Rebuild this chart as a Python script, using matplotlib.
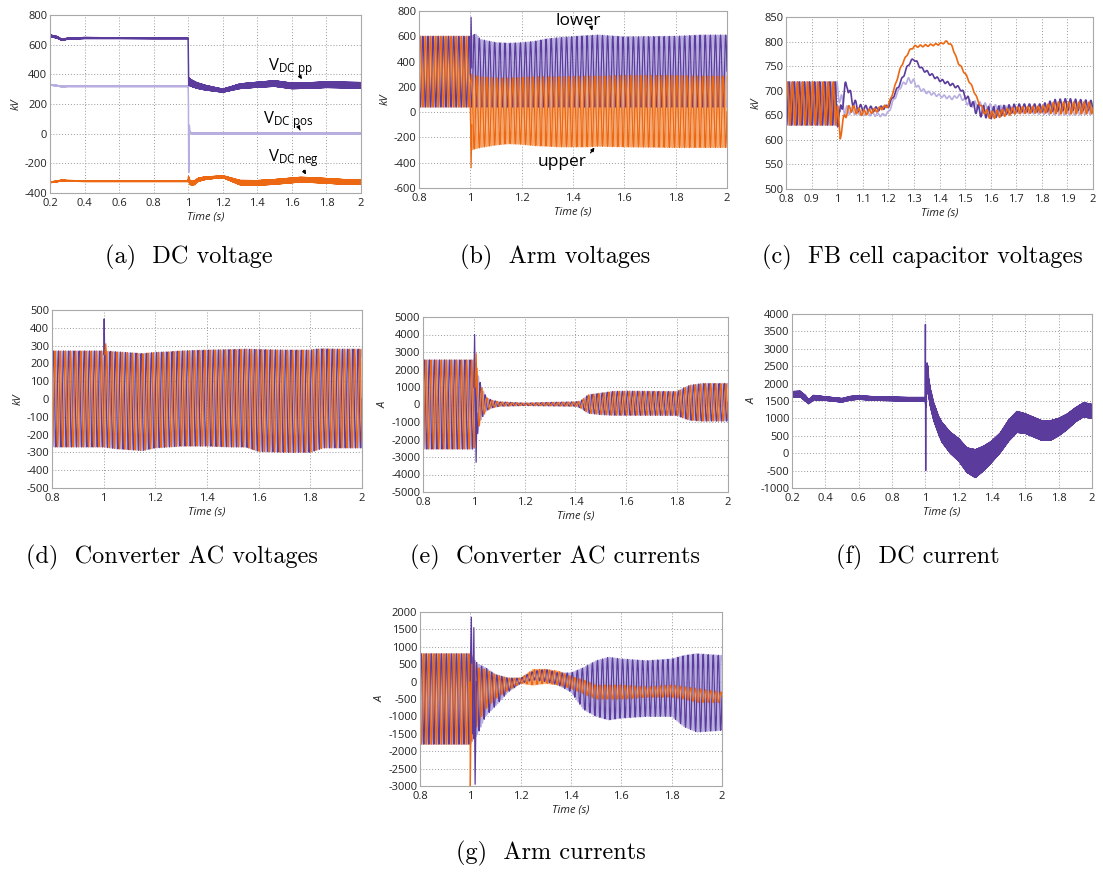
import numpy as np
import matplotlib
matplotlib.use("Agg")
import matplotlib.pyplot as plt

plt.rcParams['font.family'] = ['Open Sans', 'DejaVu Sans']
plt.rcParams['axes.unicode_minus'] = False
plt.rcParams['mathtext.fontset'] = 'custom'
plt.rcParams['mathtext.rm'] = 'Open Sans'
plt.rcParams['mathtext.it'] = 'Open Sans:italic'

DARK = '#5b3b9c'
LAV = '#b8aee0'
ORANGE = '#ec6813'
PEACH = '#f5a66c'
F50 = 50.0
THREE = [0.0, -2 * np.pi / 3, 2 * np.pi / 3]

# ---------------- (a) DC voltage ----------------
a_pp_t = [0.2, 0.24, 0.27, 0.3, 0.4, 0.6, 0.8, 0.9995, 1.002, 1.01, 1.05, 1.1, 1.15, 1.2, 1.25, 1.3, 1.4, 1.5, 1.6, 1.7, 1.8, 1.9, 2.0]
a_pp_v = [660, 650, 632, 640, 645, 644, 643, 643, 355, 345, 325, 310, 300, 290, 305, 320, 330, 338, 322, 325, 330, 328, 326]
a_pp_r = [5, 5, 3, 3, 3, 2, 2, 2, 25, 22, 18, 15, 12, 10, 12, 15, 16, 18, 18, 18, 18, 18, 18]
a_pos_t = [0.2, 0.27, 0.3, 0.9995, 1.001, 1.003, 1.006, 1.01, 1.02, 2.0]
a_pos_v = [330, 318, 320, 320, 250, -260, 60, 10, 2, 0]
a_pos_r = [2, 2, 2, 2, 2, 2, 3, 3, 2, 2]
a_neg_t = [0.2, 0.24, 0.27, 0.3, 0.4, 0.6, 0.8, 0.9995, 1.002, 1.01, 1.03, 1.06, 1.1, 1.15, 1.2, 1.25, 1.3, 1.4, 1.5, 1.6, 1.65, 1.7, 1.8, 1.9, 2.0]
a_neg_v = [-328, -322, -315, -318, -320, -320, -320, -320, -300, -330, -335, -310, -300, -295, -290, -310, -330, -332, -325, -315, -310, -312, -318, -325, -325]
a_neg_r = [2, 2, 2, 2, 2, 2, 2, 2, 12, 12, 12, 10, 8, 6, 6, 10, 14, 15, 15, 15, 15, 15, 15, 15, 15]

# ---------------- (b) Arm voltages ----------------
b_t = [0.8, 0.999, 1.003, 1.02, 1.04, 1.1, 1.15, 1.2, 1.25, 1.3, 1.35, 1.45, 1.5, 1.6, 1.8, 1.9, 2.0]
b_low_up = [600, 600, 600, 620, 575, 550, 545, 550, 560, 580, 590, 605, 610, 595, 600, 610, 610]
b_low_lo = [40, 40, 40, 40, 40, 40, 40, 40, 40, 40, 40, 40, 40, 40, 40, 40, 40]
b_upp_up = [600, 600, 300, 290, 280, 270, 270, 275, 280, 280, 280, 285, 285, 290, 290, 285, 285]
b_upp_lo = [40, 40, -300, -290, -280, -260, -250, -255, -265, -270, -275, -275, -270, -275, -280, -280, -280]
b_low_spike_t = [1.0, 1.003, 1.006]
b_low_spike_v = [300, 750, 350]
b_upp_spike_t = [1.0, 1.003, 1.006]
b_upp_spike_v = [100, -440, -100]

# ---------------- (c) FB cell capacitor voltages ----------------
c_or_t = [0.8, 0.998, 1.005, 1.012, 1.02, 1.03, 1.05, 1.1, 1.15, 1.2, 1.22, 1.25, 1.28, 1.3, 1.35, 1.4, 1.43, 1.45, 1.47, 1.5, 1.53, 1.55, 1.57, 1.6, 1.7, 1.8, 1.85, 1.9, 2.0]
c_or_v = [674, 674, 640, 605, 630, 650, 665, 655, 660, 670, 700, 750, 780, 790, 792, 795, 800, 790, 760, 735, 705, 680, 660, 650, 660, 662, 665, 665, 665]
c_or_r = [44, 44, 10, 5, 8, 8, 8, 6, 4, 3, 2, 2, 2, 2, 2, 2, 2, 2, 2, 2, 2, 2, 5, 8, 7, 7, 12, 12, 12]
c_pu_t = [0.8, 0.998, 1.01, 1.02, 1.03, 1.04, 1.05, 1.06, 1.08, 1.1, 1.15, 1.2, 1.25, 1.28, 1.3, 1.33, 1.36, 1.4, 1.45, 1.48, 1.5, 1.53, 1.55, 1.6, 1.65, 1.7, 1.8, 1.85, 1.9, 2.0]
c_pu_v = [674, 674, 640, 680, 700, 715, 690, 680, 665, 665, 662, 668, 720, 755, 765, 745, 735, 722, 712, 705, 690, 670, 660, 655, 660, 665, 665, 670, 672, 670]
c_pu_r = [44, 44, 20, 20, 15, 12, 12, 10, 8, 6, 5, 3, 3, 3, 3, 3, 3, 3, 3, 3, 5, 8, 12, 12, 10, 8, 8, 12, 12, 10]
c_lv_t = [0.8, 0.998, 1.0, 1.01, 1.03, 1.05, 1.1, 1.15, 1.18, 1.2, 1.22, 1.25, 1.28, 1.3, 1.32, 1.35, 1.4, 1.45, 1.48, 1.5, 1.55, 1.6, 1.7, 1.8, 1.9, 2.0]
c_lv_v = [674, 674, 700, 690, 660, 660, 655, 652, 650, 655, 680, 710, 722, 718, 705, 697, 690, 685, 690, 678, 670, 665, 660, 658, 658, 660]
c_lv_r = [44, 44, 20, 15, 10, 8, 5, 4, 3, 3, 3, 3, 5, 5, 4, 3, 3, 3, 3, 5, 8, 8, 6, 6, 8, 8]

# ---------------- (d) Converter AC voltages ----------------
d_t = [0.8, 0.999, 1.0, 1.05, 1.1, 1.15, 1.2, 1.25, 1.3, 1.4, 1.5, 1.55, 1.6, 1.7, 1.8, 1.82, 1.85, 1.9, 2.0]
d_up = [270, 270, 270, 265, 260, 255, 262, 265, 270, 275, 278, 280, 278, 275, 275, 280, 282, 280, 280]
d_lo = [-270, -270, -270, -280, -285, -290, -275, -270, -265, -265, -270, -270, -295, -300, -300, -290, -275, -275, -275]
d_pu_spike_t = [1.0, 1.002, 1.004]
d_pu_spike_v = [250, 450, 250]
d_or_spike_t = [1.005, 1.008, 1.011]
d_or_spike_v = [250, 310, 250]

# ---------------- (e) Converter AC currents ----------------
e_t = [0.8, 0.999, 1.0, 1.01, 1.02, 1.03, 1.05, 1.07, 1.1, 1.2, 1.3, 1.4, 1.42, 1.45, 1.5, 1.55, 1.6, 1.7, 1.8, 1.82, 1.85, 1.9, 2.0]
e_up = [2550, 2550, 2550, 2200, 1500, 1000, 400, 250, 150, 80, 120, 150, 200, 550, 650, 750, 760, 750, 740, 900, 1100, 1200, 1200]
e_lo = [-2550, -2550, -2550, -2000, -1300, -800, -350, -200, -100, -60, -80, -100, -200, -500, -580, -620, -620, -620, -630, -750, -900, -950, -950]
e_pu_spike_t = [1.0, 1.003, 1.006, 1.009, 1.012]
e_pu_spike_v = [1000, 4000, 500, -3300, -500]
e_or_spike_t = [1.005, 1.009, 1.013]
e_or_spike_v = [1000, 2900, 500]

# ---------------- (f) DC current ----------------
f_t = [0.2, 0.25, 0.28, 0.3, 0.33, 0.4, 0.5, 0.55, 0.6, 0.7, 0.8, 0.9, 0.999, 1.005, 1.01, 1.015, 1.02, 1.03, 1.05, 1.08, 1.1, 1.15, 1.2, 1.25, 1.3, 1.35, 1.4, 1.45, 1.5, 1.55, 1.6, 1.7, 1.75, 1.8, 1.85, 1.9, 1.95, 2.0]
f_v = [1690, 1700, 1580, 1480, 1600, 1570, 1520, 1580, 1600, 1570, 1560, 1550, 1550, 1500, 2300, 2200, 1900, 1600, 1200, 800, 600, 300, 100, -200, -300, -150, 50, 300, 650, 900, 850, 650, 650, 750, 900, 1100, 1250, 1200]
f_r = [80, 80, 80, 60, 60, 50, 50, 50, 50, 50, 50, 50, 50, 200, 300, 300, 250, 250, 250, 250, 280, 300, 320, 350, 400, 350, 300, 280, 300, 300, 280, 280, 280, 250, 220, 200, 200, 200]
f_spike_t = [0.999, 1.0005, 1.002, 1.0035, 1.005]
f_spike_v = [1550, 3700, -500, 2500, 1500]

# ---------------- (g) Arm currents ----------------
g_t = [0.8, 0.999, 1.0, 1.03, 1.06, 1.1, 1.15, 1.2, 1.25, 1.3, 1.35, 1.4, 1.45, 1.5, 1.55, 1.6, 1.7, 1.8, 1.85, 1.9, 2.0]
g_pu_up = [800, 800, 800, 500, 400, 200, 100, 100, 300, 350, 250, 250, 400, 600, 700, 650, 600, 650, 750, 800, 750]
g_pu_lo = [-1800, -1800, -1800, -1500, -1000, -700, -300, -50, 50, 0, -100, -300, -800, -1000, -1100, -1050, -1000, -1000, -1300, -1450, -1400]
g_or_up = [800, 800, 800, 400, 350, 200, 100, 100, 350, 350, 300, 150, 50, -100, -100, -100, -150, -100, -150, -200, -300]
g_or_lo = [-1800, -1800, -1800, -1200, -800, -500, -250, -50, -100, -50, -100, -200, -350, -500, -500, -500, -450, -450, -500, -600, -600]
g_pu_spike_t = [0.999, 1.004, 1.009, 1.014, 1.019, 1.024]
g_pu_spike_v = [0, 1850, -1500, 1550, -2950, 0]
g_or_spike_t = [0.998, 1.0, 1.003, 1.006]
g_or_spike_v = [0, -3000, -1000, 500]


def swing(t, kt, up, lo, phase, freq=F50):
    """Oscillation that fills the band between two envelopes."""
    u = np.interp(t, kt, up)
    l = np.interp(t, kt, lo)
    return (u + l) / 2 + (u - l) / 2 * np.sin(2 * np.pi * freq * t + phase)


def ripple(t, kt, centre, half, freq, phase=0.0):
    c = np.interp(t, kt, centre)
    h = np.interp(t, kt, half)
    return c + h * np.sin(2 * np.pi * freq * t + phase)


W, H = 1103, 873
fig = plt.figure(figsize=(W / 100, H / 100), dpi=100)


def add_ax(l, t, r, b):
    return fig.add_axes([l / W, 1 - b / H, (r - l) / W, (b - t) / H])


def style(ax, xlim, xticks, ylim, yticks, ylabel):
    ax.set_xlim(*xlim)
    ax.set_ylim(*ylim)
    ax.set_xticks(xticks)
    ax.set_xticklabels([f'{v:g}' for v in xticks])
    ax.set_yticks(yticks)
    ax.set_yticklabels([f'{int(v)}' for v in yticks])
    ax.tick_params(length=0, labelsize=8, colors='#222222')
    ax.tick_params(axis='x', pad=3.5)
    ax.tick_params(axis='y', pad=2)
    ax.grid(True, color='#9a9a9a', linestyle=(0, (1, 2)), linewidth=0.7)
    ax.set_axisbelow(True)
    for s in ax.spines.values():
        s.set_color('#a8a8a8')
        s.set_linewidth(0.8)
    ax.set_ylabel(ylabel, fontsize=8, style='italic', labelpad=2, color='#222222')
    ax.set_xlabel('Time (s)', fontsize=8, style='italic', labelpad=2, color='#222222')


LW = 0.9

# (a)
ax = add_ax(50, 15, 361, 193)
ta = np.linspace(0.2, 2.0, 90001)
ax.plot(ta, ripple(ta, a_pos_t, a_pos_v, a_pos_r, 610), color=LAV, lw=1.1)
ax.plot(ta, ripple(ta, a_pp_t, a_pp_v, a_pp_r, 610), color=DARK, lw=1.1)
ax.plot(ta, ripple(ta, a_neg_t, a_neg_v, a_neg_r, 610, 1.0), color=ORANGE, lw=1.1)
style(ax, (0.2, 2.0), np.arange(0.2, 2.01, 0.2).round(1), (-400, 800), range(-400, 801, 200), 'kV')
lab = dict(fontsize=12, color='black', va='center', ha='left')
ax.text(1.46, 452, r'$\mathrm{V}_{\mathrm{DC\ pp}}$', **lab)
ax.text(1.435, 94, r'$\mathrm{V}_{\mathrm{DC\ pos}}$', **lab)
ax.text(1.46, -162, r'$\mathrm{V}_{\mathrm{DC\ neg}}$', **lab)
arr = dict(arrowstyle='-|>', color='black', lw=0.9, mutation_scale=5)
ax.annotate('', xy=(1.668, 352), xytext=(1.64, 398), arrowprops=arr)
ax.annotate('', xy=(1.655, 8), xytext=(1.64, 42), arrowprops=arr)
ax.annotate('', xy=(1.69, -292), xytext=(1.66, -232), arrowprops=arr)

# (b)
ax = add_ax(419, 11, 727, 188)
tb = np.linspace(0.8, 2.0, 24001)
for ph in [THREE[1], THREE[2]]:
    ax.plot(tb, swing(tb, b_t, b_low_up, b_low_lo, ph + np.pi), color=LAV, lw=LW)
    ax.plot(tb, swing(tb, b_t, b_upp_up, b_upp_lo, ph), color=PEACH, lw=LW)
ax.plot(tb, swing(tb, b_t, b_low_up, b_low_lo, np.pi), color=DARK, lw=LW)
ax.plot(tb, swing(tb, b_t, b_upp_up, b_upp_lo, 0.0), color=ORANGE, lw=LW)
ax.plot(b_low_spike_t, b_low_spike_v, color=DARK, lw=LW)
ax.plot(b_upp_spike_t, b_upp_spike_v, color=ORANGE, lw=LW)
style(ax, (0.8, 2.0), [0.8, 1.0, 1.2, 1.4, 1.6, 1.8, 2.0], (-600, 800), range(-600, 801, 200), 'kV')
ax.text(1.33, 721, 'lower', fontsize=12.5, color='black', va='center', ha='left')
ax.text(1.264, -395, 'upper', fontsize=12.5, color='black', va='center', ha='left')
ax.annotate('', xy=(1.478, 625), xytext=(1.47, 680), arrowprops=arr)
ax.annotate('', xy=(1.49, -262), xytext=(1.462, -340), arrowprops=arr)

# (c)
ax = add_ax(786, 17, 1093, 189)
tc = np.linspace(0.8, 2.0, 24001)
ax.plot(tc, ripple(tc, c_lv_t, c_lv_v, c_lv_r, F50, THREE[2]), color=LAV, lw=1.2)
ax.plot(tc, ripple(tc, c_pu_t, c_pu_v, c_pu_r, F50, THREE[1]), color=DARK, lw=1.2)
ax.plot(tc, ripple(tc, c_or_t, c_or_v, c_or_r, F50, THREE[0]), color=ORANGE, lw=1.2)
style(ax, (0.8, 2.0), np.arange(0.8, 2.01, 0.1).round(1), (500, 850), range(500, 851, 50), 'kV')

# (d)
ax = add_ax(52, 310, 362, 488)
td = np.linspace(0.8, 2.0, 24001)
ax.plot(td, swing(td, d_t, d_up, d_lo, THREE[2]), color=LAV, lw=LW)
ax.plot(td, swing(td, d_t, d_up, d_lo, THREE[0]), color=DARK, lw=LW)
ax.plot(td, swing(td, d_t, d_up, d_lo, THREE[1]), color=ORANGE, lw=LW)
ax.plot(d_pu_spike_t, d_pu_spike_v, color=DARK, lw=LW)
ax.plot(d_or_spike_t, d_or_spike_v, color=ORANGE, lw=LW)
style(ax, (0.8, 2.0), [0.8, 1.0, 1.2, 1.4, 1.6, 1.8, 2.0], (-500, 500), range(-500, 501, 100), 'kV')

# (e)
ax = add_ax(423, 317, 728, 492)
te = np.linspace(0.8, 2.0, 24001)
ax.plot(te, swing(te, e_t, e_up, e_lo, THREE[2]), color=LAV, lw=LW)
ax.plot(te, swing(te, e_t, e_up, e_lo, THREE[0]), color=DARK, lw=LW)
ax.plot(te, swing(te, e_t, e_up, e_lo, THREE[1]), color=ORANGE, lw=LW)
ax.plot(e_pu_spike_t, e_pu_spike_v, color=DARK, lw=LW)
ax.plot(e_or_spike_t, e_or_spike_v, color=ORANGE, lw=LW)
style(ax, (0.8, 2.0), [0.8, 1.0, 1.2, 1.4, 1.6, 1.8, 2.0], (-5000, 5000), range(-5000, 5001, 1000), 'A')

# (f)
ax = add_ax(792, 314, 1092, 488)
tf = np.linspace(0.2, 2.0, 90001)
ax.plot(tf, ripple(tf, f_t, f_v, f_r, 610), color=DARK, lw=1.0)
ax.plot(f_spike_t, f_spike_v, color=DARK, lw=1.0)
style(ax, (0.2, 2.0), np.arange(0.2, 2.01, 0.2).round(1), (-1000, 4000), range(-1000, 4001, 500), 'A')

# (g)
ax = add_ax(420, 612, 722, 786)
tg = np.linspace(0.8, 2.0, 24001)
for ph in [THREE[1], THREE[2]]:
    ax.plot(tg, swing(tg, g_t, g_or_up, g_or_lo, ph + np.pi), color=PEACH, lw=LW)
    ax.plot(tg, swing(tg, g_t, g_pu_up, g_pu_lo, ph), color=LAV, lw=LW)
ax.plot(tg, swing(tg, g_t, g_pu_up, g_pu_lo, 0.0), color=DARK, lw=LW)
ax.plot(tg, swing(tg, g_t, g_or_up, g_or_lo, np.pi), color=ORANGE, lw=LW)
ax.plot(g_pu_spike_t, g_pu_spike_v, color=DARK, lw=LW)
ax.plot(g_or_spike_t, g_or_spike_v, color=ORANGE, lw=LW)
style(ax, (0.8, 2.0), [0.8, 1.0, 1.2, 1.4, 1.6, 1.8, 2.0], (-3000, 2000), range(-3000, 2001, 500), 'A')

# captions
cap = dict(fontsize=17.5, family='cmr10', ha='center', va='center', color='black')
fig.text(189 / W, 1 - 257 / H, '(a)  DC voltage', **cap)
fig.text(555 / W, 1 - 257 / H, '(b)  Arm voltages', **cap)
fig.text(922 / W, 1 - 257 / H, '(c)  FB cell capacitor voltages', **cap)
fig.text(172 / W, 1 - 557 / H, '(d)  Converter AC voltages', **cap)
fig.text(555 / W, 1 - 557 / H, '(e)  Converter AC currents', **cap)
fig.text(918 / W, 1 - 557 / H, '(f)  DC current', **cap)
fig.text(551 / W, 1 - 853 / H, '(g)  Arm currents', **cap)

fig.savefig('out.png', dpi=100, facecolor='white')
